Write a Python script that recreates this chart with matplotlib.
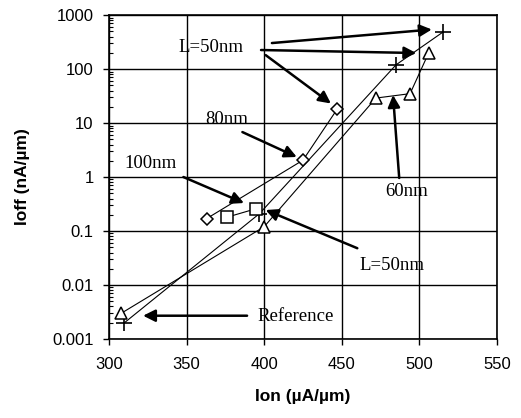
import numpy as np
import matplotlib.pyplot as plt

plt.rcParams['font.family'] = ['Liberation Sans', 'DejaVu Sans']

# series
ion_plus = [310, 397, 485, 515]
ioff_plus = [0.002, 0.21, 120, 480]

ion_tri = [308, 400, 472, 494, 506]
ioff_tri = [0.003, 0.12, 29, 35, 200]

ion_dia = [363, 425, 447]
ioff_dia = [0.17, 2.05, 18]

ion_sq = [376, 395]
ioff_sq = [0.18, 0.26]

xticks = [300, 350, 400, 450, 500, 550]
yticks = [0.001, 0.01, 0.1, 1, 10, 100, 1000]
ytick_labels = ['0.001', '0.01', '0.1', '1', '10', '100', '1000']

# annotation text: (label, x, y)
labels = [('L=50nm', 366, 255), ('80nm', 376, 11.4), ('100nm', 327, 1.8),
          ('60nm', 492, 0.53), ('L=50nm', 482, 0.023), ('Reference', 420, 0.0026)]
# arrows: (start x, start y, tip x, tip y)
arrows = [(405, 303, 508, 540), (398, 225, 498, 198), (401, 181, 443, 23),
          (386, 6.8, 421, 2.35), (348, 1.0, 387, 0.33), (487, 0.96, 483, 33),
          (460, 0.048, 401, 0.245), (389, 0.0027, 322, 0.0027)]

fig = plt.figure(figsize=(5.21, 4.18), dpi=100)
ax = fig.add_axes([0.209, 0.189, 0.745, 0.775])

lw = 0.8
ax.plot(ion_plus, ioff_plus, color='k', lw=lw, marker='+', ms=11, mew=1.2)
ax.plot(ion_tri, ioff_tri, color='k', lw=lw, marker='^', ms=9, mfc='white', mew=1.1)
ax.plot(ion_dia, ioff_dia, color='k', lw=lw, marker='D', ms=6, mfc='white', mew=1.1)
ax.plot(ion_sq, ioff_sq, color='k', lw=lw, marker='s', ms=8, mfc='white', mew=1.1)

ax.set_yscale('log')
ax.set_xlim(300, 550)
ax.set_ylim(0.001, 1000)
ax.set_xticks(xticks)
ax.set_yticks(yticks)
ax.set_yticklabels(ytick_labels)
ax.tick_params(axis='both', which='major', labelsize=12, direction='out', length=4, width=1)
ax.tick_params(axis='y', which='major', pad=7)
ax.tick_params(axis='x', which='major', pad=9)
ax.tick_params(axis='y', which='minor', direction='in', length=3, width=0.8)
ax.tick_params(axis='x', which='minor', bottom=False)
ax.grid(True, which='major', color='k', lw=1)
for s in ax.spines.values():
    s.set_linewidth(1.2)

ax.set_xlabel('Ion (µA/µm)', fontsize=12.5, fontweight='bold', labelpad=12)
ax.set_ylabel('Ioff (nA/µm)', fontsize=12.5, fontweight='bold', labelpad=16)

for txt, x, y in labels:
    ax.text(x, y, txt, family='Liberation Serif', fontsize=13.5, ha='center', va='center')

for x0, y0, x1, y1 in arrows:
    ax.annotate('', xy=(x1, y1), xytext=(x0, y0),
                arrowprops=dict(arrowstyle='-|>', color='k', lw=1.8, mutation_scale=18,
                                shrinkA=0, shrinkB=0))

plt.savefig('out.png', format='png')
